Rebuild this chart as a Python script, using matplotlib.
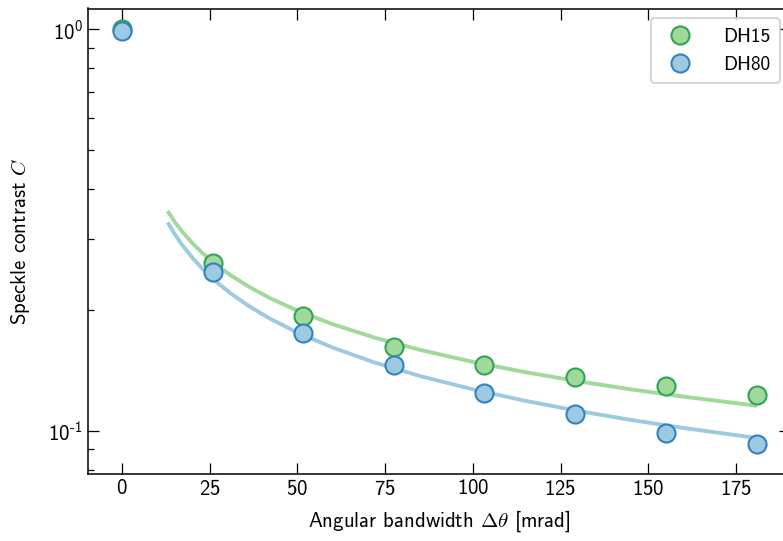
import matplotlib
matplotlib.use("Agg")
import matplotlib.pyplot as plt
from matplotlib.ticker import FuncFormatter, LogLocator, MultipleLocator
import numpy as np

plt.rcParams["font.family"] = "cmss10"
plt.rcParams["mathtext.fontset"] = "custom"
plt.rcParams["mathtext.rm"] = "cmss10"
plt.rcParams["mathtext.sf"] = "cmss10"
plt.rcParams["mathtext.it"] = "cmss10"
plt.rcParams["axes.unicode_minus"] = False
plt.rcParams["axes.formatter.use_mathtext"] = True

# measured speckle contrast vs angular bandwidth
bandwidth = [0.0, 25.8, 51.7, 77.5, 103.3, 129.2, 155.0, 181.0]
dh15 = [1.0, 0.262, 0.193, 0.162, 0.146, 0.136, 0.1295, 0.123]
dh80 = [0.99, 0.249, 0.175, 0.146, 0.1245, 0.110, 0.0989, 0.0928]

# fitted curves, sampled along the bandwidth axis
fit_x = [13, 15, 17, 20, 23, 27, 31, 36, 42, 50, 60, 72, 85, 100, 115, 130,
         145, 160, 181]
fit15 = [0.3526, 0.3318, 0.3146, 0.2937, 0.2768, 0.2586, 0.2439, 0.2289,
         0.2144, 0.1991, 0.1843, 0.1706, 0.1590, 0.1484, 0.1399, 0.1328,
         0.1268, 0.1216, 0.1154]
fit80 = [0.3307, 0.3092, 0.2915, 0.2701, 0.2529, 0.2346, 0.2198, 0.2049,
         0.1906, 0.1756, 0.1612, 0.1479, 0.1368, 0.1268, 0.1187, 0.1120,
         0.1064, 0.1016, 0.0959]

green_fill, green_edge = "#a1d99b", "#31a354"
blue_fill, blue_edge = "#9ecae1", "#3182bd"


def decade_label(v, pos):
    e = int(round(np.log10(v)))
    if e < 0:
        return r"$10^{\text{-}%d}$" % -e
    return r"$10^{%d}$" % e


fig = plt.figure(figsize=(7.83, 5.41), dpi=100)
ax = fig.add_axes([88 / 783, 67 / 541, (790 - 88) / 783, (474 - 8.5) / 541])

ax.plot(fit_x, fit15, color=green_fill, lw=2.8, zorder=2,
        solid_capstyle="butt")
ax.plot(fit_x, fit80, color=blue_fill, lw=2.8, zorder=2,
        solid_capstyle="butt")
ax.plot(bandwidth, dh15, "o", ms=13, mfc=green_fill, mec=green_edge, mew=1.5,
        label="DH15", zorder=3)
ax.plot(bandwidth, dh80, "o", ms=13, mfc=blue_fill, mec=blue_edge, mew=1.5,
        label="DH80", zorder=3)

ax.set_yscale("log")
ax.set_xlim(-9.7, 190.4)
ax.set_ylim(0.078, 1.128)
ax.xaxis.set_major_locator(MultipleLocator(25))
ax.yaxis.set_major_locator(LogLocator(base=10))
ax.yaxis.set_minor_locator(LogLocator(base=10, subs=np.arange(2, 10)))
ax.yaxis.set_major_formatter(FuncFormatter(decade_label))
ax.yaxis.set_minor_formatter(FuncFormatter(lambda v, pos: ""))

ax.tick_params(which="both", direction="in", top=True, right=True,
               labelsize=15, width=0.9)
ax.tick_params(which="major", length=8)
ax.tick_params(which="minor", length=4.5)
for sp in ax.spines.values():
    sp.set_linewidth(1.1)

ax.set_xlabel(r"Angular bandwidth $\Delta\theta$ [mrad]", fontsize=15,
              math_fontfamily="cm", labelpad=7)
ax.set_ylabel(r"Speckle contrast $C$", fontsize=15, math_fontfamily="cm",
              labelpad=12)

leg = ax.legend(loc="upper right", fontsize=14, frameon=True, fancybox=True,
                borderpad=0.5, handletextpad=1.2)
leg.get_frame().set_edgecolor("#cccccc")
leg.get_frame().set_linewidth(1.5)

fig.savefig("out.png", dpi=100)
